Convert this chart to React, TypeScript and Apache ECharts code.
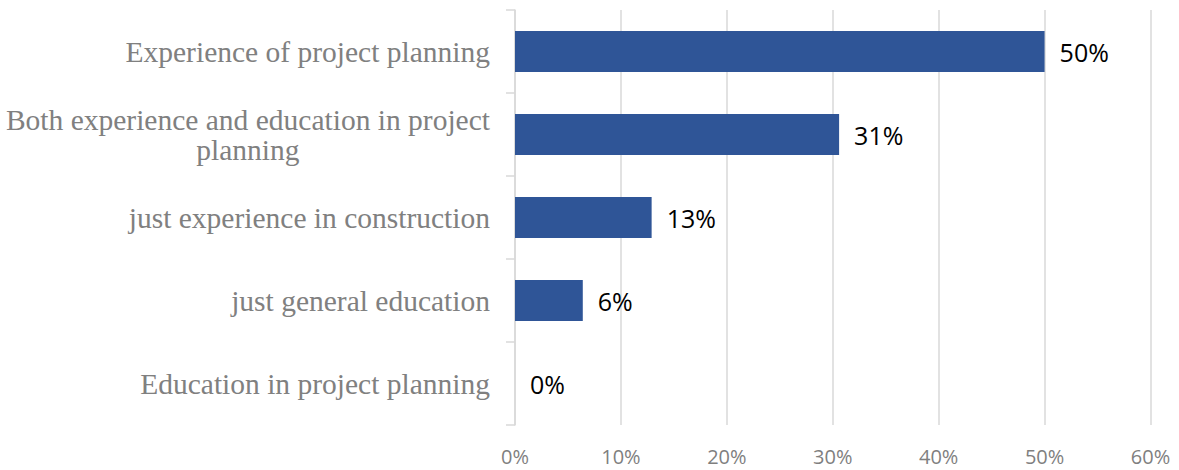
import React, { useEffect, useRef } from "react";
import * as echarts from "echarts";

const categories = [
  "Experience of project planning",
  "Both experience and education in project planning",
  "just experience in construction",
  "just general education",
  "Education in project planning",
];
const values = [50, 30.6, 12.9, 6.4, 0];
const xTicks = { min: 0, max: 60, interval: 10 };

const LABEL_FONT = '29.5px "Liberation Serif"';
const LABEL_MAX = 494;

function wrap(text: string): string[] {
  const c = document.createElement("canvas").getContext("2d");
  if (!c) return [text];
  c.font = LABEL_FONT;
  const words = text.split(" ");
  const lines: string[] = [];
  let cur = "";
  for (const w of words) {
    const t = cur ? cur + " " + w : w;
    if (c.measureText(t).width > LABEL_MAX && cur) {
      lines.push(cur);
      cur = w;
    } else cur = t;
  }
  if (cur) lines.push(cur);
  return lines;
}

export default function App() {
  const ref = useRef<HTMLDivElement>(null);
  useEffect(() => {
    if (!ref.current) return;
    const chart = echarts.init(ref.current, undefined, { renderer: "svg" });
    chart.setOption({
      animation: false,
      backgroundColor: "#ffffff",
      grid: { left: 515, right: 28.5, top: 10, bottom: 45, containLabel: false },
      xAxis: {
        type: "value",
        min: xTicks.min,
        max: xTicks.max,
        interval: xTicks.interval,
        axisLine: { show: false },
        axisTick: { show: false },
        splitLine: { show: true, lineStyle: { color: "#d9d9d9", width: 1.5 } },
        axisLabel: {
          formatter: "{value}%",
          color: "#7f7f7f",
          fontFamily: "Open Sans",
          fontSize: 20,
          lineHeight: 20,
          margin: 21,
        },
      },
      yAxis: {
        type: "category",
        inverse: true,
        data: categories,
        axisLine: { show: true, lineStyle: { color: "#d9d9d9", width: 1.5 } },
        axisTick: { show: true, length: 9, lineStyle: { color: "#d9d9d9", width: 1.5 } },
        splitLine: { show: false },
        axisLabel: {
          margin: 25,
          align: "right",
          formatter: (v: string) =>
            wrap(v)
              .map((l) => `{c|${l}}`)
              .join("\n"),
          rich: {
            c: {
              fontFamily: "Liberation Serif",
              fontSize: 29.5,
              lineHeight: 30,
              color: "#808080",
              align: "center",
            },
          },
        },
      },
      series: [
        {
          type: "bar",
          data: values,
          barWidth: 41,
          itemStyle: { color: "#2f5597" },
          label: {
            show: true,
            position: "right",
            distance: 15,
            formatter: (p: any) => Math.round(p.value) + "%",
            color: "#000000",
            fontFamily: "Open Sans",
            fontSize: 25,
          },
        },
      ],
    });
    return () => chart.dispose();
  }, []);
  return (
    <div
      ref={ref}
      style={{ position: "absolute", left: 0, top: 0, width: 1179, height: 470 }}
    />
  );
}
